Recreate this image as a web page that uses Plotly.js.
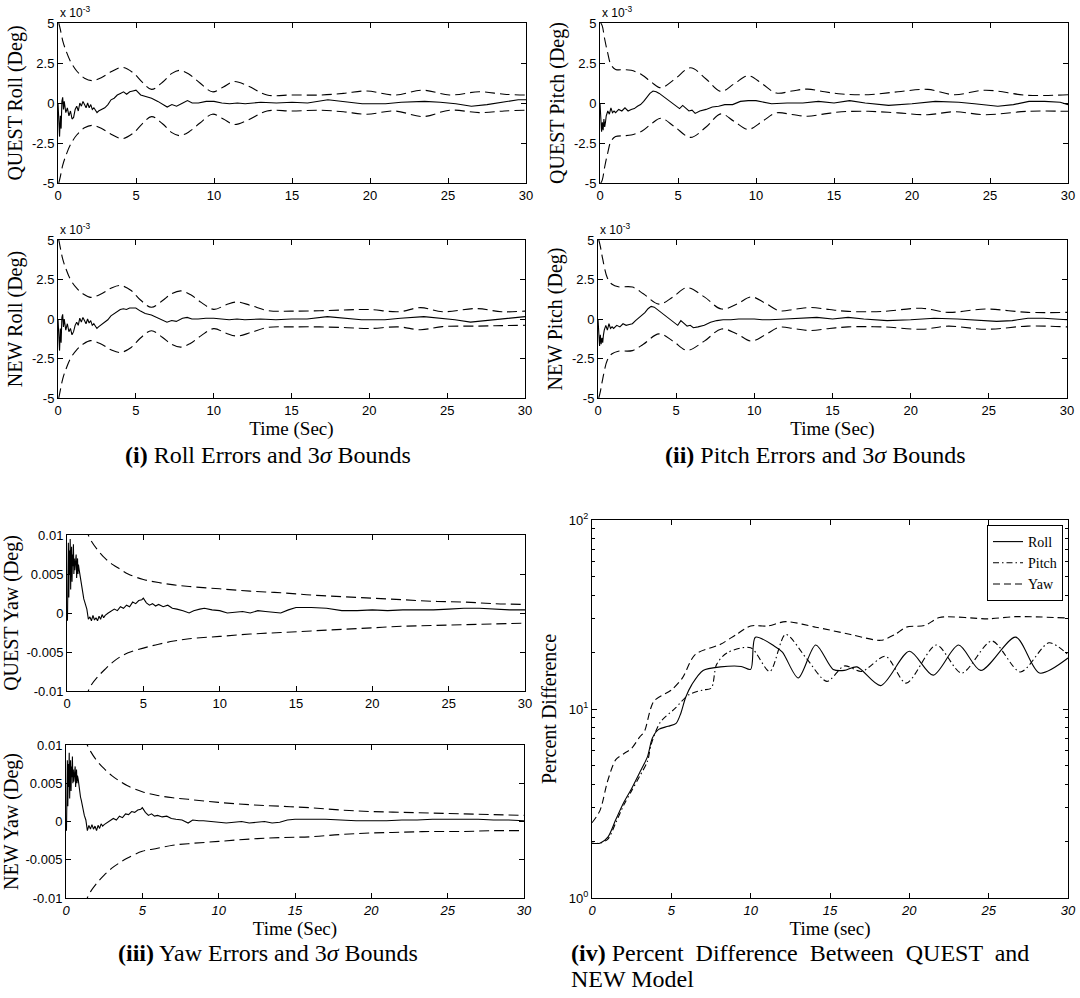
<!DOCTYPE html>
<html>
<head>
<meta charset="utf-8">
<script src="https://cdn.plot.ly/plotly-3.0.1.min.js"></script>
<style>html,body{margin:0;padding:0;background:#fff;}#chart{width:1080px;height:998px;}</style>
</head>
<body>
<div id="chart"></div>
<script>
// ---------------- DATA ----------------
const xTicks = [0, 5, 10, 15, 20, 25, 30];
const mTickVals = [-5, -2.5, 0, 2.5, 5];
const mTickText = ['-5', '-2.5', '0', '2.5', '5'];
const yawTickVals = [-0.01, -0.005, 0, 0.005, 0.01];
const yawTickText = ['-0.01', '-0.005', '0', '0.005', '0.01'];
const pctTickVals = [1, 10, 100];
const pctTickText = ['10<sup>0</sup>', '10<sup>1</sup>', '10<sup>2</sup>'];
const pctMinorVals = [2, 3, 4, 5, 6, 7, 8, 9, 20, 30, 40, 50, 60, 70, 80, 90];

// Roll errors (x 1e-3 deg)
const tRollErr = [0, 0.05, 0.1, 0.15, 0.2, 0.25, 0.3, 0.35, 0.4, 0.5, 0.6, 0.7, 0.8, 0.9, 1.0, 1.1, 1.2, 1.3, 1.4, 1.5, 1.6, 1.7, 1.8, 1.9, 2.0, 2.1, 2.2, 2.3, 2.4, 2.5, 2.6, 2.8, 3.0, 3.2, 3.4, 3.6, 3.8, 4.0, 4.2, 4.4, 4.6, 4.8, 5.0, 5.3, 5.6, 6.0, 6.4, 6.8, 7.0, 7.3, 7.6, 8.0, 8.3, 8.6, 9.0, 9.5, 10, 10.5, 11, 11.5, 12, 13, 14, 15, 16, 17.3, 18.5, 19.5, 21, 22, 23.5, 24.5, 25.5, 26.5, 27.5, 28.5, 29.5, 30];
const questRollErr = [0, -1.5, -2.1, -0.8, -1.6, 0.1, 0.35, -0.4, 0.1, -0.6, -0.3, -0.8, -0.5, -1.0, -0.9, -0.4, -0.2, -0.5, 0, -0.2, 0.1, -0.1, -0.3, 0, -0.3, -0.1, -0.4, -0.3, -0.5, -0.6, -0.5, -0.4, -0.3, -0.1, 0.2, 0.3, 0.5, 0.6, 0.7, 0.55, 0.7, 0.75, 0.8, 0.5, 0.4, 0.3, 0.1, -0.1, -0.25, -0.1, -0.2, 0, 0.15, 0, 0, 0.1, 0.1, 0, -0.05, 0, -0.05, 0.05, 0, 0.05, 0, 0.2, 0.05, -0.05, -0.05, 0.05, 0.1, 0.05, -0.05, -0.2, -0.1, 0.05, 0.2, 0.2];
const newRollErr = [0, -1.3, -2.0, -0.6, -1.5, 0.1, 0.3, -0.5, 0, -0.7, -0.3, -0.8, -0.6, -1.0, -0.8, -0.4, -0.2, -0.4, 0.05, -0.2, 0.1, -0.1, -0.3, 0, -0.25, -0.1, -0.4, -0.3, -0.5, -0.6, -0.5, -0.35, -0.25, -0.05, 0.2, 0.35, 0.5, 0.6, 0.65, 0.6, 0.7, 0.7, 0.7, 0.5, 0.35, 0.25, 0.05, -0.1, -0.2, -0.1, -0.15, 0.05, 0.1, 0, 0, 0.05, 0.05, 0, -0.05, 0, -0.05, 0, -0.05, 0, 0, 0.15, 0.05, -0.05, -0.05, 0.05, 0.15, 0.05, -0.05, -0.2, -0.1, 0, 0.1, 0.15];

// Roll 3-sigma bounds (x 1e-3 deg)
const tQuestRollBnd = [0.05, 0.15, 0.3, 0.5, 0.8, 1.2, 1.7, 2.2, 2.8, 3.4, 4.1, 4.8, 5.4, 6.0, 6.7, 7.3, 7.8, 8.4, 9.1, 9.9, 10.6, 11.3, 12.2, 13.4, 15.0, 16.8, 18.3, 19.8, 21.6, 23.4, 25.1, 27.0, 28.6, 30];
const questRollUp = [5.0, 4.6, 3.9, 3.3, 2.6, 2.0, 1.55, 1.4, 1.6, 1.95, 2.23, 1.9, 1.3, 0.85, 1.3, 1.85, 2.04, 1.8, 1.25, 0.7, 1.0, 1.34, 1.05, 0.5, 0.5, 0.5, 0.6, 0.75, 0.5, 0.8, 0.5, 0.7, 0.55, 0.5];
const questRollLo = [-5.0, -4.6, -3.9, -3.3, -2.6, -2.0, -1.55, -1.4, -1.6, -1.95, -2.23, -1.9, -1.3, -0.85, -1.3, -1.85, -2.04, -1.8, -1.25, -0.7, -1.0, -1.34, -1.05, -0.5, -0.5, -0.45, -0.55, -0.7, -0.5, -0.85, -0.45, -0.6, -0.5, -0.45];
const tNewRollBnd = [0.05, 0.15, 0.3, 0.5, 0.8, 1.2, 1.6, 2.1, 2.8, 3.4, 4.0, 4.7, 5.3, 6.0, 6.7, 7.3, 7.9, 8.5, 9.2, 10.0, 10.8, 11.5, 12.4, 13.5, 15.0, 16.8, 18.6, 20.0, 21.9, 23.3, 24.7, 26.9, 28.5, 30];
const newRollUp = [5.0, 4.5, 3.8, 3.2, 2.5, 1.95, 1.6, 1.37, 1.6, 1.95, 2.12, 1.8, 1.2, 0.74, 1.15, 1.6, 1.78, 1.55, 1.05, 0.61, 0.9, 1.08, 0.85, 0.53, 0.5, 0.52, 0.58, 0.6, 0.46, 0.72, 0.46, 0.66, 0.46, 0.5];
const newRollLo = [-5.0, -4.5, -3.8, -3.2, -2.5, -1.95, -1.6, -1.37, -1.6, -1.95, -2.12, -1.8, -1.2, -0.74, -1.15, -1.6, -1.78, -1.55, -1.05, -0.61, -0.9, -1.08, -0.85, -0.53, -0.5, -0.5, -0.55, -0.6, -0.5, -0.68, -0.48, -0.45, -0.42, -0.4];

// Pitch errors (x 1e-3 deg)
const tPitchErr = [0, 0.05, 0.1, 0.15, 0.2, 0.25, 0.3, 0.35, 0.4, 0.5, 0.6, 0.7, 0.8, 0.9, 1.0, 1.2, 1.4, 1.6, 1.8, 2.0, 2.2, 2.4, 2.6, 2.8, 3.0, 3.2, 3.4, 3.6, 3.8, 4.0, 4.3, 4.6, 4.9, 5.1, 5.3, 5.5, 5.7, 5.9, 6.1, 6.4, 6.8, 7.2, 7.6, 8.0, 8.5, 9.0, 9.5, 10, 10.5, 11, 12, 13, 14, 15, 16, 17, 18.5, 20, 21.5, 23, 24, 25.5, 26.5, 27.5, 28.5, 29.5, 30];
const questPitchErr = [0, -1.0, -1.8, -1.2, -1.7, -1.0, -1.5, -1.2, -0.8, -0.5, -0.7, -0.3, -0.6, -0.5, -0.6, -0.4, -0.5, -0.3, -0.5, -0.4, -0.35, -0.2, -0.1, 0.1, 0.35, 0.6, 0.75, 0.7, 0.6, 0.45, 0.25, 0.05, -0.2, -0.35, -0.15, -0.3, -0.5, -0.45, -0.65, -0.5, -0.4, -0.25, -0.2, -0.1, -0.1, 0.1, 0.15, 0.15, 0.05, -0.05, 0, 0, 0.1, 0, 0.15, 0, -0.15, -0.05, 0.1, 0.05, -0.05, -0.2, -0.1, 0.1, 0.1, 0.05, -0.1];
const newPitchErr = [0, -0.8, -1.7, -1.0, -1.6, -1.2, -1.5, -1.0, -0.7, -0.4, -0.7, -0.3, -0.6, -0.5, -0.6, -0.4, -0.5, -0.3, -0.4, -0.35, -0.3, -0.1, 0.05, 0.2, 0.4, 0.65, 0.8, 0.75, 0.6, 0.45, 0.25, 0.0, -0.25, -0.4, -0.1, -0.3, -0.45, -0.4, -0.55, -0.5, -0.4, -0.2, -0.1, -0.05, -0.05, 0, 0, 0, -0.05, -0.05, 0, 0.05, 0.1, 0, 0.1, 0, -0.1, -0.05, 0.05, 0, -0.05, -0.15, -0.1, 0.05, 0.05, 0, -0.05];

// Pitch 3-sigma bounds (x 1e-3 deg)
const tQuestPitchBnd = [0.05, 0.15, 0.3, 0.5, 0.7, 1.0, 1.5, 2.0, 2.7, 3.3, 3.9, 4.8, 5.8, 6.8, 7.75, 8.6, 9.5, 10.4, 11.3, 12.3, 13.3, 14.4, 15.5, 17.2, 19.1, 21.0, 22.7, 24.7, 27.4, 30];
const questPitchUp = [5.0, 4.8, 4.0, 3.1, 2.4, 2.1, 2.08, 2.05, 1.75, 1.3, 0.95, 1.5, 2.2, 1.5, 0.72, 1.2, 1.7, 1.2, 0.62, 0.75, 0.87, 0.7, 0.56, 0.52, 0.7, 0.85, 0.52, 0.8, 0.48, 0.52];
const questPitchLo = [-5.0, -4.8, -4.0, -3.1, -2.4, -2.1, -2.05, -2.0, -1.75, -1.3, -0.95, -1.5, -2.15, -1.5, -0.68, -1.15, -1.65, -1.15, -0.62, -0.72, -0.83, -0.68, -0.55, -0.52, -0.62, -0.73, -0.55, -0.73, -0.52, -0.52];
const tNewPitchBnd = [0.05, 0.15, 0.3, 0.6, 0.9, 1.3, 2.2, 2.9, 3.9, 4.8, 5.7, 6.8, 7.9, 8.9, 9.8, 10.7, 11.6, 12.6, 13.6, 14.8, 16.0, 18.2, 20.7, 22.4, 24.8, 27.5, 30];
const newPitchUp = [5.0, 4.6, 3.8, 2.6, 2.2, 2.04, 2.02, 1.6, 0.94, 1.4, 1.98, 1.4, 0.63, 0.95, 1.4, 1.0, 0.52, 0.62, 0.73, 0.6, 0.48, 0.48, 0.68, 0.42, 0.63, 0.42, 0.42];
const newPitchLo = [-5.0, -4.6, -3.8, -2.6, -2.2, -2.04, -2.0, -1.6, -0.94, -1.4, -1.98, -1.4, -0.63, -0.95, -1.4, -1.0, -0.52, -0.62, -0.73, -0.6, -0.5, -0.5, -0.65, -0.45, -0.65, -0.45, -0.5];

// Yaw errors (deg)
const tYawErr = [0, 0.03, 0.06, 0.09, 0.12, 0.15, 0.18, 0.21, 0.24, 0.27, 0.3, 0.33, 0.36, 0.39, 0.42, 0.45, 0.48, 0.51, 0.54, 0.57, 0.6, 0.63, 0.66, 0.69, 0.72, 0.75, 0.8, 0.85, 0.9, 0.95, 1.0, 1.05, 1.1, 1.15, 1.2, 1.3, 1.4, 1.5, 1.6, 1.7, 1.8, 1.9, 2.0, 2.1, 2.2, 2.3, 2.4, 2.5, 2.7, 2.9, 3.1, 3.3, 3.5, 3.7, 3.9, 4.1, 4.3, 4.5, 4.7, 4.9, 5.0, 5.2, 5.4, 5.6, 5.8, 6.0, 6.3, 6.6, 6.9, 7.2, 7.6, 8.0, 8.3, 8.7, 9.0, 9.5, 10, 10.5, 11, 11.5, 12, 12.5, 13, 13.5, 14, 14.5, 15, 16, 17, 18, 19, 20, 21, 22, 23, 24, 25, 26, 27, 28, 29, 30];
const questYawErr = [0, -0.001, 0.004, 0.009, 0.002, 0.008, 0.005, 0.0095, 0.003, 0.007, 0.0085, 0.004, 0.0075, 0.006, 0.0088, 0.005, 0.007, 0.0055, 0.0065, 0.006, 0.0075, 0.0045, 0.006, 0.007, 0.005, 0.0062, 0.0055, 0.0048, 0.004, 0.0035, 0.003, 0.0025, 0.0018, 0.0015, 0.0012, 0.0005, -0.0008, -0.0005, -0.001, -0.0003, -0.0009, -0.0006, -0.001, -0.0004, -0.0008, -0.0002, -0.0006, -0.0003, 0, 0.0002, 0.0005, 0.0003, 0.0008, 0.0006, 0.001, 0.0008, 0.0014, 0.0012, 0.0016, 0.0017, 0.0019, 0.0013, 0.001, 0.0012, 0.0009, 0.0011, 0.0008, 0.001, 0.0006, 0.0005, 0.0003, 0, 0.0003, 0.0005, 0.0006, 0.0004, 0.0003, 0, 0.0001, 0.0002, 0, 0.0003, 0.0002, 0.0001, 0, 0.0004, 0.0007, 0.0007, 0.0006, 0.0003, 0.0003, 0.0004, 0.0003, 0.0004, 0.0004, 0.0004, 0.0005, 0.0006, 0.0006, 0.0005, 0.0004, 0.0004];
const newYawErr = [0, -0.0012, 0.003, 0.008, 0.002, 0.0075, 0.0045, 0.009, 0.003, 0.0065, 0.008, 0.004, 0.0072, 0.0058, 0.0085, 0.005, 0.0068, 0.0052, 0.0062, 0.0058, 0.0072, 0.0045, 0.0058, 0.0068, 0.005, 0.006, 0.0055, 0.0045, 0.0038, 0.0032, 0.0028, 0.0022, 0.0015, 0.0012, 0.0008, 0.0002, -0.0012, -0.0005, -0.001, -0.0004, -0.001, -0.0006, -0.0012, -0.0005, -0.0009, -0.0003, -0.0006, -0.0004, -0.0001, 0.0001, 0.0004, 0.0002, 0.0007, 0.0005, 0.001, 0.0009, 0.0013, 0.0012, 0.0015, 0.0016, 0.0018, 0.0012, 0.0008, 0.001, 0.0007, 0.0008, 0.0006, 0.0007, 0.0004, 0.0003, 0.0002, -0.0002, 0.0002, 0.0001, 0.0001, 0, -0.0001, -0.0002, -0.0001, 0, -0.0002, -0.0001, 0, -0.0002, -0.0001, 0.0002, 0.0003, 0.0003, 0.0003, 0.0002, 0.0001, 0.0001, 0.0001, 0.0002, 0.0002, 0.0003, 0.0003, 0.0003, 0.0003, 0.0002, 0.0002, 0.0001];

// Yaw 3-sigma bounds (deg)
const tYawBnd = [1.2, 1.35, 1.6, 2.0, 2.5, 3.0, 3.5, 4.0, 5.0, 6.0, 7.0, 8.0, 10, 12, 14, 16, 18, 20, 22, 24, 26, 28, 30];
const questYawUp = [0.011, 0.0102, 0.0092, 0.0081, 0.007, 0.0062, 0.0056, 0.005, 0.0043, 0.0039, 0.0036, 0.0034, 0.0031, 0.0028, 0.0026, 0.0023, 0.0021, 0.0019, 0.0017, 0.0015, 0.0014, 0.0012, 0.0011];
const questYawLo = [-0.011, -0.0102, -0.0092, -0.0082, -0.0072, -0.0063, -0.0056, -0.0051, -0.0045, -0.004, -0.0036, -0.0033, -0.003, -0.0027, -0.0025, -0.0023, -0.0021, -0.0019, -0.0017, -0.0016, -0.0015, -0.0014, -0.0013];
const newYawUp = [0.011, 0.0102, 0.0092, 0.008, 0.0069, 0.006, 0.0053, 0.0047, 0.0039, 0.0034, 0.0031, 0.0029, 0.0025, 0.0022, 0.002, 0.0018, 0.0015, 0.0013, 0.0012, 0.0011, 0.001, 0.0009, 0.0008];
const newYawLo = [-0.011, -0.0102, -0.0092, -0.0081, -0.007, -0.0061, -0.0054, -0.0048, -0.0039, -0.0035, -0.0031, -0.0029, -0.0026, -0.0023, -0.0021, -0.002, -0.0017, -0.0015, -0.0014, -0.0013, -0.0013, -0.0012, -0.0012];

// Percent difference between QUEST and NEW model
const tPctRoll = [0, 0.5, 1.0, 1.5, 2.0, 2.5, 3.0, 3.5, 3.8, 4.2, 4.8, 5.3, 5.6, 5.9, 6.3, 7.0, 8.1, 9.4, 10.0, 10.3, 11.5, 12.0, 13.0, 14.1, 15.2, 15.9, 16.7, 18.2, 20.0, 21.5, 23.1, 24.5, 26.7, 28.2, 30];
const pctRoll = [1.95, 1.95, 2.1, 2.6, 3.2, 3.8, 4.6, 5.6, 7.0, 7.8, 8.1, 8.4, 9.5, 11.5, 13.5, 16.0, 16.7, 16.8, 16.2, 24.0, 21.5, 20.0, 14.6, 21.8, 16.2, 16.0, 16.7, 13.3, 20.2, 15.1, 21.8, 16.0, 24.0, 15.5, 18.6];
const tPctPitch = [0, 0.5, 1.0, 1.5, 2.0, 2.5, 3.0, 3.5, 3.73, 4.3, 5.25, 6.1, 6.98, 7.52, 7.85, 8.5, 10.0, 11.2, 12.2, 13.5, 14.8, 15.9, 17.0, 18.5, 19.8, 21.7, 23.3, 25.2, 27.0, 28.8, 30];
const pctPitch = [1.95, 1.95, 2.05, 2.5, 3.1, 3.7, 4.4, 5.3, 6.5, 8.5, 10.1, 11.9, 12.6, 12.9, 17.2, 19.8, 21.1, 15.8, 24.8, 18.6, 14.0, 16.9, 15.8, 19.0, 13.7, 21.8, 15.5, 22.9, 15.7, 22.4, 19.4];
const tPctYaw = [0, 0.5, 1.0, 1.5, 2.0, 2.5, 3.0, 3.3, 3.9, 5.0, 5.7, 6.5, 8.1, 9.1, 10.0, 11.1, 12.2, 14.1, 16.3, 18.2, 19.1, 19.8, 21.0, 21.9, 25.0, 26.7, 30];
const pctYaw = [2.5, 2.9, 4.2, 5.4, 5.8, 6.2, 7.1, 7.6, 11.0, 12.6, 14.6, 19.4, 22.0, 24.8, 27.5, 27.5, 29.0, 27.1, 24.8, 23.1, 24.8, 27.1, 27.7, 30.5, 30.0, 30.8, 30.3];
const legendNames = ['Roll', 'Pitch', 'Yaw'];

// ---------------- LAYOUT HELPERS ----------------
const W = 1080, H = 998;
const SERIF = '"Liberation Serif", "Times New Roman", serif';
const SANS = '"Liberation Sans", Arial, sans-serif';
function dx(l, r) { return [l / W, r / W]; }
function dy(t, b) { return [1 - b / H, 1 - t / H]; }
function baseAxis(extra) {
  return Object.assign({
    showline: true, linecolor: '#000', linewidth: 1, mirror: 'ticks',
    ticks: 'inside', ticklen: 5, tickwidth: 1, tickcolor: '#000',
    showgrid: false, zeroline: false, automargin: false, fixedrange: true,
    tickfont: { family: SANS, size: 13, color: '#000' }
  }, extra);
}
function xAx(dom, anchor, title, italic) {
  const a = baseAxis({ domain: dom, anchor: anchor, range: [0, 30], tickmode: 'array', tickvals: xTicks, ticktext: xTicks.map(String) });
  if (italic) a.tickfont = { family: SANS, size: 13, color: '#000', style: 'italic' };
  if (title) a.title = { text: title, font: { family: SERIF, size: 19, color: '#000' }, standoff: 0 };
  return a;
}
function yAx(dom, anchor, title, vals, text, range) {
  return baseAxis({ domain: dom, anchor: anchor, range: range, tickmode: 'array', tickvals: vals, ticktext: text,
    title: { text: title, font: { family: SERIF, size: 20, color: '#000' }, standoff: 3 } });
}

const solid = { color: '#000', width: 1.1 };
const dashed = { color: '#000', width: 1.1, dash: '10px,5px', shape: 'spline', smoothing: 1 };
function line(x, y, xa, ya, ln, extra) {
  return Object.assign({ type: 'scatter', mode: 'lines', x: x, y: y, xaxis: xa, yaxis: ya, line: ln, showlegend: false, hoverinfo: 'skip' }, extra || {});
}

const traces = [
  line(tRollErr, questRollErr, 'x', 'y', solid),
  line(tQuestRollBnd, questRollUp, 'x', 'y', dashed),
  line(tQuestRollBnd, questRollLo, 'x', 'y', dashed),
  line(tRollErr, newRollErr, 'x2', 'y2', solid),
  line(tNewRollBnd, newRollUp, 'x2', 'y2', dashed),
  line(tNewRollBnd, newRollLo, 'x2', 'y2', dashed),
  line(tPitchErr, questPitchErr, 'x3', 'y3', solid),
  line(tQuestPitchBnd, questPitchUp, 'x3', 'y3', dashed),
  line(tQuestPitchBnd, questPitchLo, 'x3', 'y3', dashed),
  line(tPitchErr, newPitchErr, 'x4', 'y4', solid),
  line(tNewPitchBnd, newPitchUp, 'x4', 'y4', dashed),
  line(tNewPitchBnd, newPitchLo, 'x4', 'y4', dashed),
  line(tYawErr, questYawErr, 'x5', 'y5', solid),
  line(tYawBnd, questYawUp, 'x5', 'y5', dashed),
  line(tYawBnd, questYawLo, 'x5', 'y5', dashed),
  line(tYawErr, newYawErr, 'x6', 'y6', solid),
  line(tYawBnd, newYawUp, 'x6', 'y6', dashed),
  line(tYawBnd, newYawLo, 'x6', 'y6', dashed),
  line(tPctRoll, pctRoll, 'x7', 'y7', { color: '#000', width: 1.1, shape: 'spline', smoothing: 0.8 }, { name: legendNames[0], showlegend: true }),
  line(tPctPitch, pctPitch, 'x7', 'y7', { color: '#000', width: 1.1, dash: '6px,3px,1.5px,3px', shape: 'spline', smoothing: 0.8 }, { name: legendNames[1], showlegend: true }),
  line(tPctYaw, pctYaw, 'x7', 'y7', { color: '#000', width: 1.1, dash: '7px,4px', shape: 'spline', smoothing: 0.8 }, { name: legendNames[2], showlegend: true })
];

// pixel boxes [left, right, top, bottom]
const B1 = [58, 526, 23, 183], B2 = [58, 525, 240, 398], B3 = [600, 1068, 23, 183], B4 = [598, 1067, 240, 398];
const B5 = [67, 525, 535, 691], B6 = [66, 524, 745, 898], B7 = [592, 1068, 520, 898];

const mRange = [-5, 5], yawRange = [-0.01, 0.01];
const layout = {
  width: W, height: H, margin: { l: 0, r: 0, t: 0, b: 0 },
  paper_bgcolor: '#fff', plot_bgcolor: '#fff',
  font: { family: SANS, color: '#000' },
  xaxis: xAx(dx(B1[0], B1[1]), 'y'),
  yaxis: yAx(dy(B1[2], B1[3]), 'x', 'QUEST Roll (Deg)', mTickVals, mTickText, mRange),
  xaxis2: xAx(dx(B2[0], B2[1]), 'y2', 'Time (Sec)'),
  yaxis2: yAx(dy(B2[2], B2[3]), 'x2', 'NEW Roll (Deg)', mTickVals, mTickText, mRange),
  xaxis3: xAx(dx(B3[0], B3[1]), 'y3'),
  yaxis3: yAx(dy(B3[2], B3[3]), 'x3', 'QUEST Pitch (Deg)', mTickVals, mTickText, mRange),
  xaxis4: xAx(dx(B4[0], B4[1]), 'y4', 'Time (Sec)'),
  yaxis4: yAx(dy(B4[2], B4[3]), 'x4', 'NEW Pitch (Deg)', mTickVals, mTickText, mRange),
  xaxis5: xAx(dx(B5[0], B5[1]), 'y5'),
  yaxis5: yAx(dy(B5[2], B5[3]), 'x5', 'QUEST Yaw (Deg)', yawTickVals, yawTickText, yawRange),
  xaxis6: xAx(dx(B6[0], B6[1]), 'y6', 'Time (Sec)', true),
  yaxis6: yAx(dy(B6[2], B6[3]), 'x6', 'NEW Yaw (Deg)', yawTickVals, yawTickText, yawRange),
  xaxis7: xAx(dx(B7[0], B7[1]), 'y7', 'Time (sec)', true),
  yaxis7: baseAxis({ domain: dy(B7[2], B7[3]), anchor: 'x7', type: 'log', range: [0, 2],
    tickmode: 'array', tickvals: pctTickVals, ticktext: pctTickText,
    minor: { tickmode: 'array', tickvals: pctMinorVals, ticks: 'inside', ticklen: 3, tickcolor: '#000', tickwidth: 1 },
    title: { text: 'Percent Difference', font: { family: SERIF, size: 20, color: '#000' }, standoff: 6 } }),
  showlegend: true,
  legend: { x: 1063 / W, y: 1 - 525 / H, xanchor: 'right', yanchor: 'top', bgcolor: '#fff', bordercolor: '#000', borderwidth: 1,
    font: { family: SERIF, size: 14, color: '#000' }, itemwidth: 30, tracegroupgap: 0 },
  annotations: []
};

const ann = layout.annotations;
[B1, B2, B3, B4].forEach(b => {
  ann.push({ xref: 'paper', yref: 'paper', x: b[0] / W, y: 1 - (b[2] - 1) / H, xanchor: 'left', yanchor: 'bottom',
    text: 'x 10<sup>-3</sup>', showarrow: false, font: { family: SANS, size: 12, color: '#000' } });
});
const capFont = { family: SERIF, size: 24, color: '#000' };
function cap(text, xpx, ypx, anchor) {
  ann.push({ xref: 'paper', yref: 'paper', x: xpx / W, y: 1 - ypx / H, xanchor: anchor || 'center', yanchor: 'middle', text: text, showarrow: false, font: capFont });
}
cap('<b>(i)</b> Roll Errors and 3<i>σ</i> Bounds', 268, 455);
cap('<b>(ii)</b> Pitch Errors and 3<i>σ</i> Bounds', 815, 455);
cap('<b>(iii)</b> Yaw Errors and 3<i>σ</i> Bounds', 268, 953);
cap('<b>(iv)</b> Percent  Difference  Between  QUEST  and', 569, 953, 'left');
cap('NEW Model', 569, 979, 'left');

Plotly.newPlot('chart', traces, layout, { displayModeBar: false, staticPlot: true });
</script>
</body>
</html>
